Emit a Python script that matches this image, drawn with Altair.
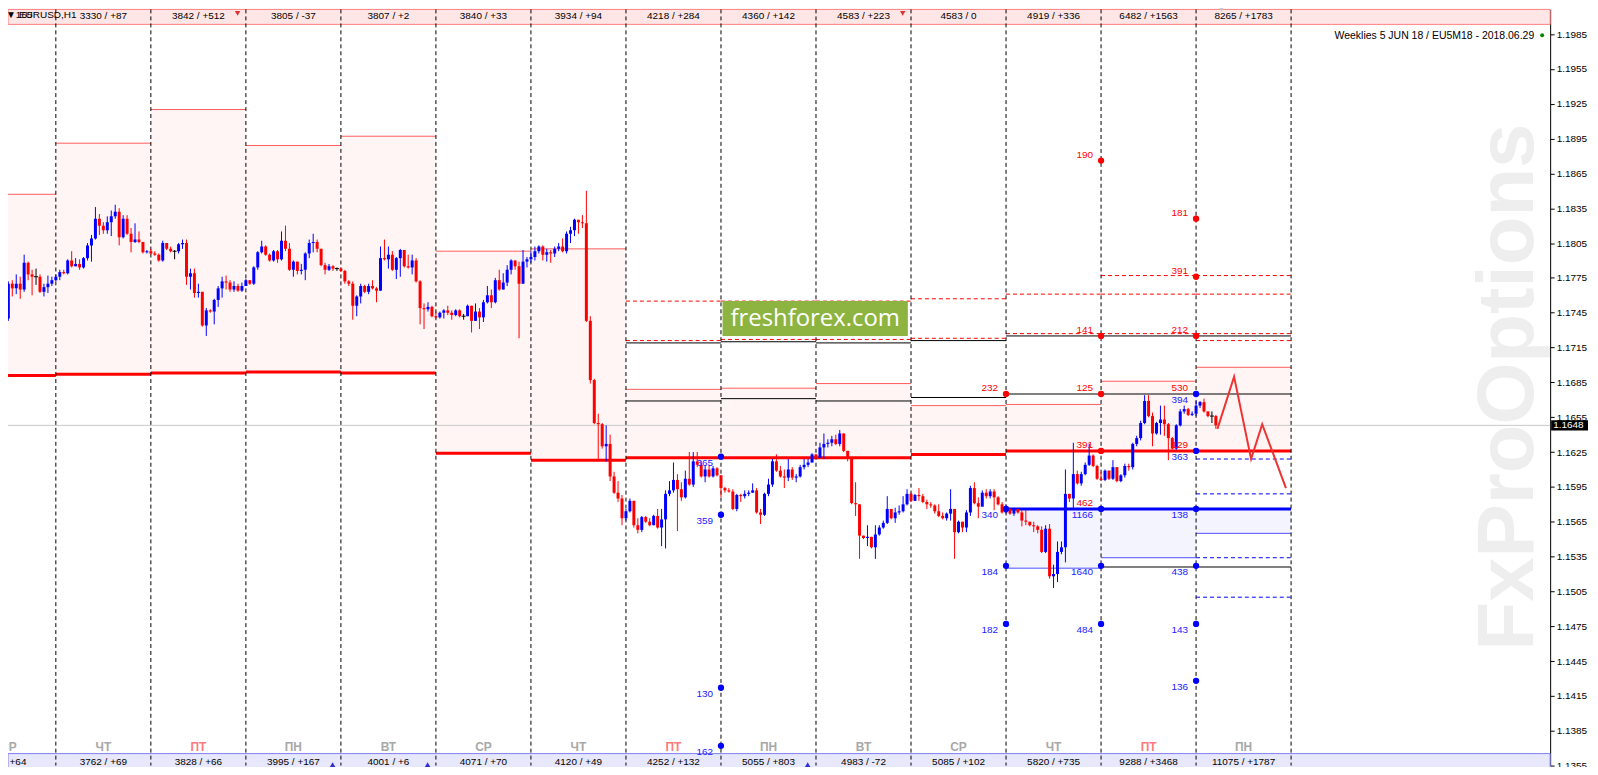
import altair as alt
import numpy as np
import pandas as pd

# ---------------- data (prices in pips: 11770 -> 1.1770) ----------------
OPEN0 = 11740
CLOSE = [
11770,11766,11770,11765,11788,11778,11776,11776,11763,11767,11770,11773,
11776,11780,11779,11790,11785,11787,11784,11792,11803,11809,11826,11820,
11816,11823,11828,11832,11810,11826,11813,11806,11808,11806,11797,11798,
11796,11795,11790,11805,11800,11798,11798,11804,11805,11776,11779,11762,
11763,11734,11747,11746,11756,11766,11772,11771,11765,11768,11764,11768,
11773,11770,11784,11797,11802,11795,11790,11798,11791,11807,11800,11782,
11789,11781,11782,11796,11805,11806,11800,11786,11782,11785,11783,11783,
11781,11772,11770,11751,11759,11768,11763,11768,11766,11764,11792,11791,
11795,11782,11792,11799,11785,11784,11790,11772,11749,11748,11750,11742,
11741,11745,11747,11745,11743,11747,11742,11742,11751,11738,11746,11741,
11754,11760,11754,11773,11765,11771,11782,11790,11785,11770,11789,11791,
11793,11798,11802,11795,11797,11796,11800,11802,11798,11813,11816,11825,
11823,11822,11738,11687,11650,11649,11630,11632,11604,11590,11585,11568,
11574,11583,11562,11558,11569,11565,11562,11570,11560,11567,11589,11592,
11601,11593,11586,11602,11597,11617,11614,11604,11610,11604,11611,11605,
11594,11592,11591,11576,11588,11587,11589,11590,11592,11573,11571,11589,
11597,11617,11609,11604,11603,11610,11603,11604,11612,11614,11616,11623,
11620,11629,11632,11633,11636,11632,11641,11626,11620,11581,11580,11553,
11551,11552,11543,11554,11560,11564,11576,11568,11573,11574,11580,11589,
11583,11588,11587,11582,11580,11579,11574,11570,11568,11572,11576,11556,
11565,11560,11573,11594,11581,11578,11590,11587,11591,11586,11580,11573,
11576,11572,11576,11573,11566,11565,11562,11561,11558,11539,11559,11518,
11520,11539,11543,11589,11585,11606,11598,11606,11614,11622,11613,11602,
11601,11609,11602,11612,11600,11605,11613,11612,11632,11637,11650,11669,
11656,11641,11650,11653,11649,11637,11628,11648,11660,11662,11657,11658,
11665,11668,11660,11656,11656,11648,
]
HIGH = [
11772,11773,11778,11776,11795,11789,11782,11783,11778,11770,11777,11776,
11778,11782,11782,11791,11798,11792,11791,11793,11805,11812,11836,11830,
11823,11828,11833,11838,11835,11829,11829,11818,11822,11815,11806,11799,
11800,11798,11796,11807,11805,11802,11799,11805,11808,11808,11783,11783,
11770,11762,11749,11748,11757,11768,11776,11777,11773,11772,11770,11771,
11774,11773,11785,11798,11807,11803,11796,11799,11799,11815,11820,11805,
11790,11789,11787,11797,11808,11813,11808,11800,11788,11787,11786,11784,
11784,11782,11773,11772,11760,11770,11769,11770,11773,11767,11802,11808,
11802,11798,11793,11800,11799,11795,11795,11792,11773,11753,11754,11751,
11746,11746,11748,11751,11747,11748,11748,11744,11752,11750,11753,11749,
11756,11768,11765,11775,11782,11779,11786,11791,11790,11789,11799,11793,
11798,11802,11803,11803,11800,11799,11802,11805,11809,11815,11819,11826,
11825,11829,11850,11742,11688,11658,11650,11648,11640,11608,11600,11588,
11576,11585,11583,11568,11570,11570,11568,11571,11576,11576,11592,11600,
11616,11606,11599,11609,11625,11625,11625,11617,11614,11614,11613,11612,
11605,11595,11594,11593,11589,11589,11592,11592,11598,11594,11576,11590,
11602,11619,11623,11613,11610,11619,11612,11606,11614,11619,11619,11624,
11622,11633,11641,11636,11639,11640,11644,11641,11626,11619,11599,11579,
11553,11562,11552,11562,11562,11566,11587,11576,11577,11579,11587,11593,
11590,11589,11594,11589,11584,11582,11580,11580,11573,11573,11593,11575,
11566,11565,11575,11596,11599,11586,11592,11593,11593,11593,11587,11582,
11580,11577,11577,11576,11575,11575,11565,11565,11562,11561,11562,11563,
11528,11548,11548,11610,11589,11633,11609,11608,11616,11632,11623,11614,
11608,11610,11609,11618,11612,11606,11615,11615,11633,11639,11652,11674,
11674,11659,11651,11665,11665,11650,11638,11649,11662,11665,11663,11660,
11669,11669,11671,11660,11660,11657,
]
LOW = [
11738,11759,11761,11757,11763,11773,11760,11769,11762,11759,11762,11768,
11772,11773,11778,11778,11784,11785,11782,11783,11790,11789,11808,11812,
11813,11813,11811,11826,11803,11809,11812,11797,11805,11805,11796,11796,
11795,11794,11789,11789,11799,11797,11791,11796,11800,11769,11765,11758,
11758,11733,11725,11745,11735,11750,11758,11765,11763,11763,11763,11763,
11768,11769,11769,11782,11796,11794,11789,11789,11788,11790,11798,11781,
11776,11778,11778,11773,11792,11797,11797,11785,11778,11781,11781,11781,
11780,11770,11768,11739,11742,11753,11762,11761,11765,11754,11764,11790,
11783,11781,11774,11776,11784,11783,11778,11771,11735,11731,11746,11741,
11740,11740,11740,11743,11739,11742,11741,11739,11742,11728,11738,11731,
11737,11753,11749,11753,11764,11765,11768,11778,11782,11723,11770,11784,
11788,11790,11796,11790,11789,11788,11793,11798,11797,11796,11805,11811,
11813,11818,11737,11684,11649,11619,11628,11617,11600,11589,11582,11562,
11566,11573,11560,11555,11556,11564,11561,11562,11559,11544,11542,11587,
11590,11557,11583,11585,11596,11595,11612,11603,11599,11603,11603,11604,
11586,11590,11590,11575,11574,11582,11585,11587,11590,11572,11563,11570,
11587,11595,11608,11603,11594,11600,11601,11599,11603,11610,11612,11616,
11619,11620,11619,11629,11630,11631,11630,11625,11617,11580,11570,11533,
11550,11544,11542,11533,11553,11559,11563,11567,11564,11571,11573,11579,
11582,11583,11583,11581,11576,11577,11572,11569,11567,11566,11566,11533,
11555,11556,11556,11570,11580,11568,11578,11585,11585,11575,11579,11572,
11572,11571,11570,11572,11561,11562,11561,11556,11555,11538,11538,11516,
11508,11513,11537,11530,11582,11576,11597,11596,11605,11613,11612,11601,
11600,11600,11601,11601,11599,11599,11603,11609,11610,11630,11635,11649,
11655,11630,11640,11640,11639,11618,11627,11627,11647,11658,11656,11656,
11656,11663,11659,11655,11650,11645,
]

# day columns: column c spans hours [-12+24c, 12+24c]
DAY_NAMES = ["СР", "ЧТ", "ПТ", "ПН", "ВТ", "СР", "ЧТ", "ПТ", "ПН", "ВТ", "СР", "ЧТ", "ПТ", "ПН"]
TOP_LABELS = ["3330 / +87", "3842 / +512", "3805 / -37", "3807 / +2", "3840 / +33", "3934 / +94",
              "4218 / +284", "4360 / +142", "4583 / +223", "4583 / 0", "4919 / +336",
              "6482 / +1563", "8265 / +1783"]
BOTTOM_LABELS = ["3762 / +69", "3828 / +66", "3995 / +167", "4001 / +6", "4071 / +70", "4120 / +49",
                 "4252 / +132", "5055 / +803", "4983 / -72", "5085 / +102", "5820 / +735",
                 "9288 / +3468", "11075 / +1787"]

THIN_RED = {0: 11847, 1: 11891, 2: 11920, 3: 11889, 4: 11897, 5: 11798, 6: 11800, 7: 11679,
            8: 11680, 9: 11684, 10: 11665, 11: 11666, 12: 11686, 13: 11698}
THICK_RED = {0: 11691, 1: 11692, 2: 11693, 3: 11694, 4: 11693, 5: 11624, 6: 11618, 7: 11620,
             8: 11620, 9: 11620, 10: 11623, 11: 11626, 12: 11626, 13: 11626}
DASHED_RED = {7: [11755, 11721], 8: [11755, 11722], 9: [11755, 11722], 10: [11757, 11723],
              11: [11761, 11727], 12: [11777, 11761, 11727], 13: [11777, 11761, 11727, 11721]}
BLACK = {7: [11719, 11669], 8: [11720, 11671], 9: [11719, 11669], 10: [11721, 11672],
         11: [11725, 11675], 12: [11725, 11675, 11526], 13: [11725, 11675, 11526]}
THICK_BLUE = {11: 11576, 12: 11576, 13: 11576}
THIN_BLUE = {11: 11525, 12: 11534, 13: 11555}
DASHED_BLUE = {13: [11619, 11589, 11534, 11500]}

RED_DOT_H = [252, 276, 276, 276, 276, 300, 300, 300]
RED_DOT_P = [11675, 11876, 11725, 11675, 11626, 11826, 11776, 11725]
BLUE_DOT_H = [180, 180, 180, 180, 252, 252, 252, 276, 276, 276, 300, 300, 300, 300, 300, 300]
BLUE_DOT_P = [11621, 11571, 11422, 11372, 11576, 11527, 11477, 11576, 11527, 11477,
              11675, 11626, 11576, 11527, 11477, 11428]
RED_LAB_H = [252, 276, 276, 276, 276, 276, 300, 300, 300, 300, 300]
RED_LAB_P = [11675, 11876, 11725, 11675, 11626, 11576, 11826, 11776, 11725, 11675, 11626]
RED_LAB_T = ["232", "190", "141", "125", "391", "462", "181", "391", "212", "530", "129"]
BLUE_LAB_H = [180, 180, 180, 180, 252, 252, 252, 276, 276, 276, 300, 300, 300, 300, 300, 300]
BLUE_LAB_P = [11621, 11571, 11422, 11372, 11576, 11527, 11477, 11576, 11527, 11477,
              11675, 11626, 11576, 11527, 11477, 11428]
BLUE_LAB_T = ["365", "359", "130", "162", "340", "184", "182", "1166", "1640", "484",
              "394", "363", "138", "438", "143", "136"]

ZIG_H = [305.4, 309.6, 313.9, 316.7, 322.7]
ZIG_P = [11645, 11690, 11619, 11649, 11594]

LOGO_H = [180.4, 227.2]
LOGO_P = [11755, 11725]

TOP_ARROW_H = [57.9, 225.9]
GRAY_ARROW_H = [306.4]
BOTTOM_ARROW_H = [81.9, 105.9, 201.9]

LAST_PRICE = 11648
WATERMARK_H, WATERMARK_P = 385.2, 11681

# ---------------- geometry ----------------
W, H = 1548, 759
xs = alt.Scale(domain=[1.175, 388.175], nice=False, zero=False)
ys = alt.Scale(domain=[1.1355, 1.20062], nice=False, zero=False)
TICKS = [round(1.1355 + 0.003 * k, 4) for k in range(22)]
YAX = alt.Axis(orient="right", values=TICKS, format=".4f", title=None, grid=False,
               tickSize=4, tickColor="black", domainColor="black", labelColor="black",
               labelFontSize=10, labelFont="Liberation Sans", labelPadding=2)
FONT = "Liberation Sans"


def X(f):
    return alt.X(f, type="quantitative", scale=xs, axis=None)


def Y(f):
    return alt.Y(f, type="quantitative", scale=ys, axis=YAX)


def col_start(c):
    return -12 + 24 * c


# ---------------- tables ----------------
n = len(CLOSE)
opens = [OPEN0] + CLOSE[:-1]
cd = pd.DataFrame({"h": range(n), "o": np.array(opens) / 1e4, "c": np.array(CLOSE) / 1e4,
                   "hi": np.array(HIGH) / 1e4, "lo": np.array(LOW) / 1e4})
cd["hi"] = cd[["hi", "o", "c"]].max(axis=1)
cd["lo"] = cd[["lo", "o", "c"]].min(axis=1)
cd["dir"] = np.where(cd["c"] > cd["o"], "up", np.where(cd["c"] < cd["o"], "down", "flat"))

rows = []
def add(c, p, s):
    rows.append({"x0": col_start(c), "x1": col_start(c) + 24, "p": p / 1e4, "s": s})
for c, p in THIN_RED.items(): add(c, p, "thin_red")
for c, p in THICK_RED.items(): add(c, p, "thick_red")
for c, ps in DASHED_RED.items():
    for p in ps: add(c, p, "dashed_red")
for c, ps in BLACK.items():
    for p in ps: add(c, p, "black")
for c, p in THICK_BLUE.items(): add(c, p, "thick_blue")
for c, p in THIN_BLUE.items(): add(c, p, "thin_blue")
for c, ps in DASHED_BLUE.items():
    for p in ps: add(c, p, "dashed_blue")
lv = pd.DataFrame(rows)

fills = []
for c in THIN_RED:
    fills.append({"x0": col_start(c), "x1": col_start(c) + 24, "p0": THIN_RED[c] / 1e4,
                  "p1": THICK_RED[c] / 1e4, "k": "pink"})
for c in THICK_BLUE:
    fills.append({"x0": col_start(c), "x1": col_start(c) + 24, "p0": THICK_BLUE[c] / 1e4,
                  "p1": THIN_BLUE[c] / 1e4, "k": "lav"})
fl = pd.DataFrame(fills)

one = pd.DataFrame({"a": [0]})
seps = pd.DataFrame({"h": [12 + 24 * k for k in range(14)]})
top_df = pd.DataFrame({"h": [24 * (k + 1) for k in range(13)], "t": TOP_LABELS})
bot_df = pd.DataFrame({"h": [24 * (k + 1) for k in range(13)], "t": BOTTOM_LABELS})
day_df = pd.DataFrame({"h": [24 * k for k in range(14)], "t": DAY_NAMES})
day_df["fri"] = day_df["t"] == "ПТ"
rdots = pd.DataFrame({"h": RED_DOT_H, "p": np.array(RED_DOT_P) / 1e4})
bdots = pd.DataFrame({"h": BLUE_DOT_H, "p": np.array(BLUE_DOT_P) / 1e4})
rlab = pd.DataFrame({"h": RED_LAB_H, "p": np.array(RED_LAB_P) / 1e4, "t": RED_LAB_T})
blab = pd.DataFrame({"h": BLUE_LAB_H, "p": np.array(BLUE_LAB_P) / 1e4, "t": BLUE_LAB_T})
zig = pd.DataFrame({"h": ZIG_H, "p": np.array(ZIG_P) / 1e4, "i": range(len(ZIG_H))})
logo = pd.DataFrame({"x0": [LOGO_H[0]], "x1": [LOGO_H[1]], "p0": [LOGO_P[0] / 1e4],
                     "p1": [LOGO_P[1] / 1e4], "hm": [sum(LOGO_H) / 2],
                     "pm": [sum(LOGO_P) / 2e4], "t": ["freshforex.com"]})
last = pd.DataFrame({"p": [LAST_PRICE / 1e4], "t": [f"{LAST_PRICE / 1e4:.4f}"]})
wm = pd.DataFrame({"h": [WATERMARK_H], "p": [WATERMARK_P / 1e4], "t": ["FxProOptions"]})

layers = []
# watermark
layers.append(alt.Chart(wm).mark_text(angle=270, fontSize=80, fontWeight="bold", font=FONT,
                                       color="#EEEEEE", align="center", baseline="alphabetic",
                                       clip=True)
              .encode(x=X("h"), y=Y("p"), text="t:N"))
# fills
for k, col in [("pink", "#FFF5F5"), ("lav", "#F4F4FF")]:
    layers.append(alt.Chart(fl).transform_filter(alt.datum.k == k).mark_rect(clip=True, color=col)
                  .encode(x=X("x0"), x2="x1", y=Y("p0"), y2="p1"))
# top / bottom bars
layers.append(alt.Chart(one).mark_rect(fill="#FFE6E6", stroke="#FF8080", strokeWidth=1).encode(
    x=alt.value(0), x2=alt.value(W), y=alt.value(0), y2=alt.value(15)))
layers.append(alt.Chart(one).mark_rect(fill="#E8E8FC", stroke="#8080F0", strokeWidth=1).encode(
    x=alt.value(0), x2=alt.value(W), y=alt.value(747), y2=alt.value(764)))
# last price line
layers.append(alt.Chart(last).mark_rule(color="#C8C8C8", strokeWidth=1).encode(y=Y("p")))
# level lines
styles = {
    "thin_red": dict(color="#FF5C5C", strokeWidth=1),
    "thick_red": dict(color="#FF0000", strokeWidth=3),
    "dashed_red": dict(color="#FF0000", strokeWidth=1, strokeDash=[4, 3]),
    "black": dict(color="#000000", strokeWidth=1),
    "thick_blue": dict(color="#0000FF", strokeWidth=3),
    "thin_blue": dict(color="#5050FF", strokeWidth=1),
    "dashed_blue": dict(color="#0000FF", strokeWidth=1, strokeDash=[4, 3]),
}
for s, kw in styles.items():
    layers.append(alt.Chart(lv).transform_filter(alt.datum.s == s).mark_rule(clip=True, **kw)
                  .encode(x=X("x0"), x2="x1", y=Y("p")))
# separators
layers.append(alt.Chart(seps).mark_rule(color="black", strokeWidth=1, strokeDash=[4, 3])
              .encode(x=X("h")))
# candles
for d, col in [("up", "#0000FF"), ("down", "#FF0000"), ("flat", "#000000")]:
    layers.append(alt.Chart(cd).transform_filter(alt.datum.dir == d)
                  .mark_rule(strokeWidth=1, clip=True, color=col)
                  .encode(x=X("h"), y=Y("lo"), y2="hi"))
for d, col in [("up", "#0000FF"), ("down", "#FF0000")]:
    layers.append(alt.Chart(cd).transform_filter(alt.datum.dir == d)
                  .mark_bar(size=3, clip=True, color=col, opacity=1)
                  .encode(x=X("h"), y=Y("o"), y2="c"))
layers.append(alt.Chart(cd).transform_filter(alt.datum.dir == "flat")
              .mark_tick(orient="horizontal", size=4, thickness=1, color="black", clip=True, opacity=1)
              .encode(x=X("h"), y=Y("c")))
# forecast zigzag
layers.append(alt.Chart(zig).mark_line(color="#EE3333", strokeWidth=2, clip=True).encode(
    x=X("h"), y=Y("p"), order="i:Q"))
# logo
layers.append(alt.Chart(logo).mark_rect(color="#8DB440").encode(
    x=X("x0"), x2="x1", y=Y("p0"), y2="p1"))
layers.append(alt.Chart(logo).mark_text(color="white", font="Open Sans", fontSize=24,
                                         baseline="middle", align="center")
              .encode(x=X("hm"), y=Y("pm"), text="t:N"))
# dots and labels
layers.append(alt.Chart(rdots).mark_circle(size=40, opacity=1, color="#FF0000").encode(
    x=X("h"), y=Y("p")))
layers.append(alt.Chart(bdots).mark_circle(size=40, opacity=1, color="#0000FF").encode(
    x=X("h"), y=Y("p")))
layers.append(alt.Chart(rlab).mark_text(color="#FF0000", font=FONT, fontSize=10, align="right",
                                         baseline="middle", dx=-8, dy=-6)
              .encode(x=X("h"), y=Y("p"), text="t:N"))
layers.append(alt.Chart(blab).mark_text(color="#2020FF", font=FONT, fontSize=10, align="right",
                                         baseline="middle", dx=-8, dy=6)
              .encode(x=X("h"), y=Y("p"), text="t:N"))
# bar texts and day names
layers.append(alt.Chart(top_df).mark_text(font=FONT, fontSize=10, color="black", baseline="middle",
                                           clip=True)
              .encode(x=X("h"), y=alt.value(7), text="t:N"))
layers.append(alt.Chart(bot_df).mark_text(font=FONT, fontSize=10, color="black", baseline="middle",
                                           clip=True)
              .encode(x=X("h"), y=alt.value(755.5), text="t:N"))
layers.append(alt.Chart(one).mark_text(font=FONT, fontSize=10, color="black", baseline="middle",
                                        align="left", text="/ +64")
              .encode(x=alt.value(-4), y=alt.value(755.5)))
for fri, col in [(False, "#A8A8A8"), (True, "#FF7A7A")]:
    layers.append(alt.Chart(day_df).transform_filter(alt.datum.fri == fri)
                  .mark_text(font=FONT, fontSize=12, fontWeight="bold", baseline="middle",
                             clip=True, color=col)
                  .encode(x=X("h"), y=alt.value(740), text="t:N"))
# arrows
layers.append(alt.Chart(pd.DataFrame({"h": TOP_ARROW_H})).mark_point(
    shape="triangle-down", filled=True, size=30, color="#E03030", opacity=1)
    .encode(x=X("h"), y=alt.value(4)))
layers.append(alt.Chart(pd.DataFrame({"h": GRAY_ARROW_H})).mark_point(
    shape="triangle-down", filled=True, size=30, color="#C8C8C8", opacity=1)
    .encode(x=X("h"), y=alt.value(0)))
layers.append(alt.Chart(pd.DataFrame({"h": BOTTOM_ARROW_H})).mark_point(
    shape="triangle-up", filled=True, size=30, color="#3030D0", opacity=1)
    .encode(x=X("h"), y=alt.value(758)))
# header texts
layers.append(alt.Chart(one).mark_text(font=FONT, fontSize=10, color="black", align="left",
                                        baseline="middle", text="▼165")
              .encode(x=alt.value(-2), y=alt.value(6)))
layers.append(alt.Chart(one).mark_text(font=FONT, fontSize=10, color="black", align="left",
                                        baseline="middle", text="EURUSD,H1")
              .encode(x=alt.value(11), y=alt.value(6)))
layers.append(alt.Chart(one).mark_text(font=FONT, fontSize=10.5, color="black", align="right",
                                        baseline="middle",
                                        text="Weeklies 5 JUN 18 / EU5M18 - 2018.06.29")
              .encode(x=alt.value(1532), y=alt.value(27)))
layers.append(alt.Chart(one).mark_circle(size=16, color="#008800", opacity=1)
              .encode(x=alt.value(1540), y=alt.value(26)))
# last price tag on the axis
layers.append(alt.Chart(last).mark_point(shape="M-1,-0.28L1,-0.28L1,0.28L-1,0.28Z", filled=True,
                                          size=1369, color="black", opacity=1)
              .encode(x=alt.value(W + 19.5), y=Y("p")))
layers.append(alt.Chart(last).mark_text(font=FONT, fontSize=10, color="white", align="left",
                                         baseline="middle")
              .encode(x=alt.value(W + 3), y=Y("p"), text="t:N"))

chart = alt.layer(*layers).properties(
    width=W, height=H,
    autosize=alt.AutoSizeParams(type="none"),
    padding={"left": 0, "top": 0, "right": 40, "bottom": 0},
).configure_view(stroke=None)

chart.save("out.html", embed_options={"renderer": "svg", "actions": False})
